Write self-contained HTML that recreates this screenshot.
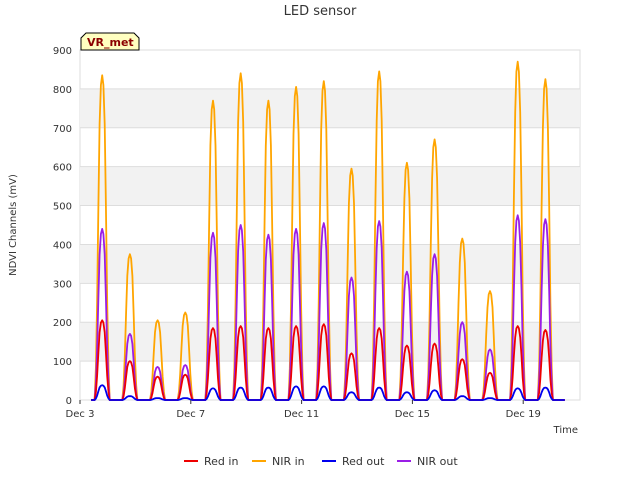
<!DOCTYPE html>
<html><head><meta charset="utf-8"><style>
body{margin:0;background:#fff;font-family:"Liberation Sans","DejaVu Sans",sans-serif}
svg text{font-family:"DejaVu Sans","Liberation Sans",sans-serif}
</style></head><body>
<svg id="chart" width="640" height="480">
<text x="320" y="15" text-anchor="middle" font-size="13" fill="#333">LED sensor</text>
<g id="bands"></g>
<g id="grid"></g>
<g id="series"></g>
<g id="axes"></g>
<g>
<path d="M81,50 L81,38 L86,33 L134,33 L139,38 L139,50 Z" fill="#ffffc0" stroke="#000" stroke-width="1"/>
<text x="87" y="46" font-size="11" font-weight="bold" fill="#8b0000">VR_met</text>
</g>
<text x="16" y="225" font-size="10" fill="#333" text-anchor="middle" transform="rotate(-90 16 225)">NDVI Channels (mV)</text>
<text x="578" y="433" font-size="10" fill="#333" text-anchor="end">Time</text>
<g id="legend"></g>
</svg>
<script>
const seriesNames=["Red in","NIR in","Red out","NIR out"];
const seriesColors=["#ee0000","#ffa500","#0000ee","#9a1ee6"];
const peakDays=[3.8,4.8,5.8,6.8,7.8,8.8,9.8,10.8,11.8,12.8,13.8,14.8,15.8,16.8,17.8,18.8,19.8];
const redIn=[205,100,60,65,185,190,185,190,195,120,185,140,145,105,70,190,180];
const nirIn=[835,375,205,225,770,840,770,805,820,595,845,610,670,415,280,870,825];
const redOut=[38,10,5,5,30,32,32,35,35,20,32,20,25,10,5,30,32];
const nirOut=[440,170,85,90,430,450,425,440,455,315,460,330,375,200,130,475,465];
const dayProfile=[0,0.1,0.3,0.6,0.85,0.97,1,0.97,0.85,0.6,0.3,0.1,0];
const yTicks=[0,100,200,300,400,500,600,700,800,900];
const xTickDays=[3,7,11,15,19];
const xTickLabels=["Dec 3","Dec 7","Dec 11","Dec 15","Dec 19"];
const L=80,R=580,T=50,B=400,D0=3,D1=21.05,YMAX=900;
const xs=d=>L+(d-D0)/(D1-D0)*(R-L);
const ys=v=>B-v/YMAX*(B-T);
const NS="http://www.w3.org/2000/svg";
function mk(tag,attrs,parent){const e=document.createElementNS(NS,tag);for(const k in attrs)e.setAttribute(k,attrs[k]);parent.appendChild(e);return e;}
const bands=document.getElementById('bands'),grid=document.getElementById('grid'),axes=document.getElementById('axes'),ser=document.getElementById('series'),leg=document.getElementById('legend');
const bg=mk('rect',{x:L,y:T,width:R-L,height:B-T,fill:'#fff',stroke:'#ddd'},bands);


for(let i=0;i<yTicks.length-1;i++){
  if(i%2===1){const r=mk('rect',{x:L,y:ys(yTicks[i+1]),width:R-L,height:ys(yTicks[i])-ys(yTicks[i+1]),fill:'#f2f2f2'},bands);
  
  }
}
yTicks.forEach(v=>{
  const g=mk('line',{x1:L,x2:R,y1:ys(v),y2:ys(v),stroke:'#ddd','stroke-width':1},grid);
  
  
  const t=mk('text',{x:L-8,y:ys(v)+4,'text-anchor':'end','font-size':10,fill:'#333'},axes);t.textContent=v;
  
  
});
xTickDays.forEach((d,i)=>{
  mk('line',{x1:xs(d),x2:xs(d),y1:B,y2:B+4,stroke:'#333'},axes);
  const t=mk('text',{x:xs(d),y:B+17,'text-anchor':'middle','font-size':10,fill:'#333'},axes);t.textContent=xTickLabels[i];
  
  
});
const allData=[redIn,nirIn,redOut,nirOut];
const drawOrder=[1,3,0,2];
drawOrder.forEach(si=>{
  const peaks=allData[si];
  let pts=[[xs(3.4),ys(0)]];
  peakDays.forEach((pd,di)=>{
    dayProfile.forEach((f,h)=>{const d=pd+(h-6)/22;pts.push([xs(d),ys(peaks[di]*f)]);});
  });
  pts.push([xs(20.5),ys(0)]);
  const p=mk('polyline',{points:pts.map(p=>p[0].toFixed(1)+','+p[1].toFixed(1)).join(' '),fill:'none',stroke:seriesColors[si],'stroke-width':1.8,'stroke-linejoin':'round'},ser);
  
  
});
const legX=[184,252,322,397];
seriesNames.forEach((n,i)=>{
  const g=mk('g',{},leg);
  
  
  mk('line',{x1:legX[i],x2:legX[i]+14,y1:461,y2:461,stroke:seriesColors[i],'stroke-width':2},g);
  const t=mk('text',{x:legX[i]+20,y:465,'font-size':11,fill:'#333'},g);t.textContent=n;
});
</script>
</body></html>
